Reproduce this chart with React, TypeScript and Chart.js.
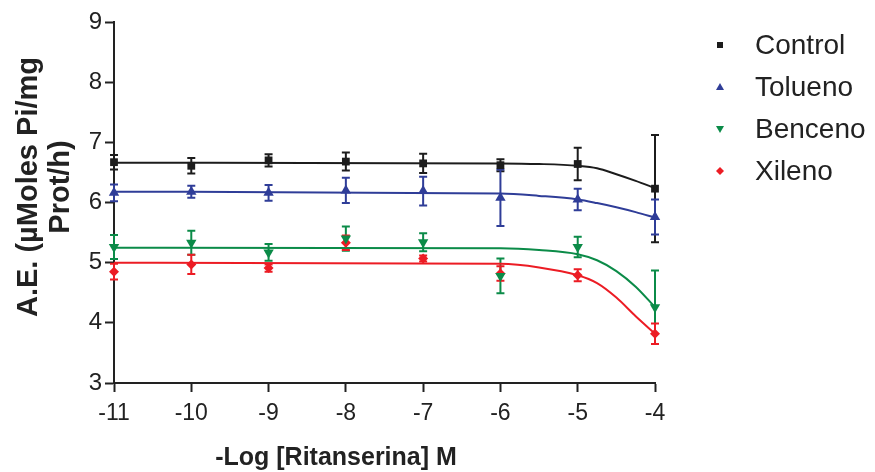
import React, { useEffect, useRef } from "react";
import { Chart, registerables } from "chart.js";

Chart.register(...registerables);

const xValues = [-11, -10, -9, -8, -7, -6, -5, -4];

const controlMean = [6.67, 6.61, 6.70, 6.68, 6.65, 6.62, 6.64, 6.23];
const controlErr = [0.12, 0.13, 0.10, 0.15, 0.16, 0.10, 0.27, 0.89];
const toluenoMean = [6.16, 6.18, 6.16, 6.20, 6.19, 6.08, 6.05, 5.76];
const toluenoErr = [0.14, 0.10, 0.13, 0.21, 0.24, 0.47, 0.18, 0.29];
const bencenoMean = [5.26, 5.33, 5.17, 5.40, 5.34, 4.78, 5.26, 4.26];
const bencenoErr = [0.20, 0.20, 0.14, 0.20, 0.15, 0.29, 0.17, 0.61];
const xilenoMean = [4.85, 4.97, 4.91, 5.33, 5.07, 4.82, 4.79, 3.82];
const xilenoErr = [0.13, 0.16, 0.06, 0.12, 0.05, 0.12, 0.10, 0.17];

// fitted curves
const curveX = [-11, -6, -5.5, -5, -4.75, -4.5, -4.25, -4];
const controlCurve = [6.66, 6.65, 6.64, 6.61, 6.57, 6.47, 6.36, 6.24];
const toluenoCurve = [6.18, 6.15, 6.11, 6.05, 5.99, 5.92, 5.84, 5.75];
const bencenoCurve = [5.25, 5.24, 5.21, 5.14, 5.04, 4.86, 4.60, 4.26];
const xilenoCurve = [5.0, 4.98, 4.92, 4.79, 4.66, 4.42, 4.11, 3.82];

const seriesNames = ["Control", "Tolueno", "Benceno", "Xileno"];
const seriesColors = ["#1c1c1c", "#2f3d98", "#0b8b48", "#ec1c24"];
const seriesStyles = ["rect", "triangle", "triangle", "rectRot"];
const seriesRotation = [0, 0, 180, 0];
const seriesRadius = [5.5, 6, 6, 5];

const yTicks = [3, 4, 5, 6, 7, 8, 9];
const xTitle = "-Log [Ritanserina] M";
const yTitle = ["A.E. (µMoles Pi/mg", "Prot/h)"];

const FONT = "'Liberation Sans', Arial, Helvetica, sans-serif";

export default function App() {
  const ref = useRef<HTMLCanvasElement | null>(null);

  useEffect(() => {
    if (!ref.current) return;
    const means = [controlMean, toluenoMean, bencenoMean, xilenoMean];
    const errs = [controlErr, toluenoErr, bencenoErr, xilenoErr];
    const curves = [controlCurve, toluenoCurve, bencenoCurve, xilenoCurve];

    const datasets: any[] = [];
    seriesNames.forEach((name, i) => {
      datasets.push({
        label: name + " fit",
        data: curveX.map((x, j) => ({ x, y: curves[i][j] })),
        showLine: true,
        borderColor: seriesColors[i],
        borderWidth: 2,
        pointRadius: 0,
        cubicInterpolationMode: "monotone",
        clip: false,
        order: 2,
      });
      datasets.push({
        label: name,
        data: xValues.map((x, j) => ({ x, y: means[i][j] })),
        showLine: false,
        pointStyle: seriesStyles[i],
        rotation: seriesRotation[i],
        pointRadius: seriesRadius[i],
        backgroundColor: seriesColors[i],
        borderColor: seriesColors[i],
        borderWidth: 0,
        clip: false,
        order: 1,
        errs: errs[i],
      });
    });

    const errorBars = {
      id: "errorBars",
      beforeDatasetsDraw(chart: any) {
        const ctx = chart.ctx;
        const xs = chart.scales.x;
        const ys = chart.scales.y;
        chart.data.datasets.forEach((ds: any) => {
          if (!ds.errs) return;
          ctx.save();
          ctx.strokeStyle = ds.borderColor;
          ctx.lineWidth = 2;
          ds.data.forEach((p: any, j: number) => {
            const e = ds.errs[j];
            const px = xs.getPixelForValue(p.x);
            const top = ys.getPixelForValue(p.y + e);
            const bot = ys.getPixelForValue(p.y - e);
            ctx.beginPath();
            ctx.moveTo(px, top);
            ctx.lineTo(px, bot);
            ctx.moveTo(px - 4, top);
            ctx.lineTo(px + 4, top);
            ctx.moveTo(px - 4, bot);
            ctx.lineTo(px + 4, bot);
            ctx.stroke();
          });
          ctx.restore();
        });
      },
    };

    const decorations = {
      id: "decorations",
      afterDraw(chart: any) {
        const ctx = chart.ctx;
        ctx.save();
        // legend
        ctx.font = `28px ${FONT}`;
        ctx.textBaseline = "middle";
        ctx.textAlign = "left";
        const rowY = [45, 87, 129, 171];
        seriesNames.forEach((name, i) => {
          const mx = 720;
          const my = rowY[i];
          ctx.fillStyle = seriesColors[i];
          ctx.beginPath();
          if (i === 0) {
            ctx.rect(mx - 3, my - 3, 6, 6);
          } else if (i === 1) {
            ctx.moveTo(mx, my - 4);
            ctx.lineTo(mx + 4, my + 3);
            ctx.lineTo(mx - 4, my + 3);
            ctx.closePath();
          } else if (i === 2) {
            ctx.moveTo(mx, my + 4);
            ctx.lineTo(mx + 4, my - 3);
            ctx.lineTo(mx - 4, my - 3);
            ctx.closePath();
          } else {
            ctx.moveTo(mx, my - 4);
            ctx.lineTo(mx + 4, my);
            ctx.lineTo(mx, my + 4);
            ctx.lineTo(mx - 4, my);
            ctx.closePath();
          }
          ctx.fill();
          ctx.fillStyle = "#222";
          ctx.fillText(name, 755, my + 1);
        });
        // axis titles
        ctx.fillStyle = "#222";
        ctx.font = `bold 25px ${FONT}`;
        ctx.textAlign = "center";
        ctx.fillText(xTitle, 336, 458);
        ctx.translate(0, 187);
        ctx.rotate(-Math.PI / 2);
        ctx.font = `bold 29px ${FONT}`;
        ctx.fillText(yTitle[0], 0, 29);
        ctx.fillText(yTitle[1], 0, 61);
        ctx.restore();
      },
    };

    const chart = new Chart(ref.current, {
      type: "scatter",
      data: { datasets },
      plugins: [errorBars, decorations],
      options: {
        animation: false,
        responsive: false,
        maintainAspectRatio: false,
        layout: { padding: { top: 22, right: 220, left: 0, bottom: 0 } },
        plugins: { legend: { display: false }, tooltip: { enabled: false } },
        scales: {
          x: {
            type: "linear",
            min: -11,
            max: -4,
            afterFit: (s: any) => {
              s.height = 89;
            },
            ticks: {
              stepSize: 1,
              color: "#222",
              font: { family: FONT, size: 23 },
              padding: 8,
            },
            grid: {
              display: true,
              drawOnChartArea: false,
              drawTicks: true,
              tickLength: 9,
              tickColor: "#222",
              tickWidth: 2,
            },
            border: { color: "#222", width: 2 },
          },
          y: {
            type: "linear",
            min: yTicks[0],
            max: yTicks[yTicks.length - 1],
            afterFit: (s: any) => {
              s.width = 114;
            },
            ticks: {
              stepSize: 1,
              color: "#222",
              font: { family: FONT, size: 24 },
              padding: 3,
            },
            grid: {
              display: true,
              drawOnChartArea: false,
              drawTicks: true,
              tickLength: 9,
              tickColor: "#222",
              tickWidth: 2,
            },
            border: { color: "#222", width: 2 },
          },
        },
      } as any,
    });
    return () => chart.destroy();
  }, []);

  return (
    <div style={{ position: "absolute", left: 0, top: 0, width: 875, height: 472, background: "#fff" }}>
      <canvas ref={ref} width={875} height={472} style={{ width: 875, height: 472 }} />
    </div>
  );
}
